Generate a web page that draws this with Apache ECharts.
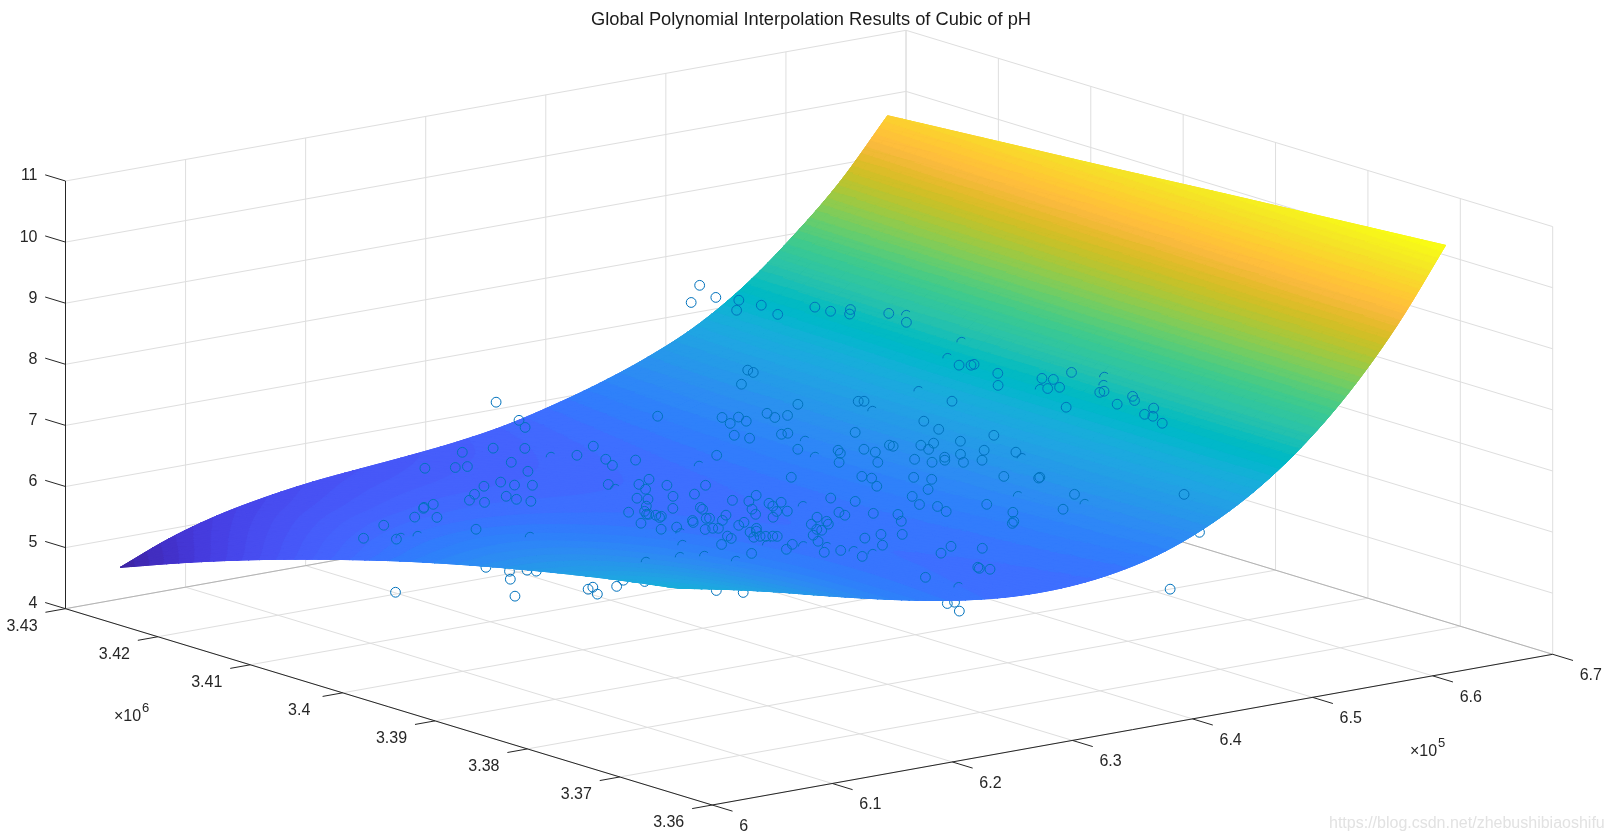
<!DOCTYPE html>
<html><head><meta charset="utf-8">
<script src="https://cdn.jsdelivr.net/npm/echarts@6/dist/echarts.min.js"></script>
<style>html,body{margin:0;background:#fff}#c{width:1612px;height:840px}</style></head>
<body><div id="c"></div><script>
const chartTitle = 'Global Polynomial Interpolation Results of Cubic of pH';
const xTicks = [6, 6.1, 6.2, 6.3, 6.4, 6.5, 6.6, 6.7];
const yTicks = [3.36, 3.37, 3.38, 3.39, 3.4, 3.41, 3.42, 3.43];
const zTicks = [4, 5, 6, 7, 8, 9, 10, 11];
// fitted surface: z at gridX (columns) / gridY (rows)
const gridX = [6.021,6.061,6.101,6.141,6.181,6.221,6.261,6.300,6.340,6.380,6.420,6.460,6.500,6.540,6.580,6.620,6.660];
const gridY = [3.4268,3.4193,3.4117,3.4042,3.3966,3.3891,3.3815,3.3740,3.3664];
const gridZ = [
[4.75,5.07,5.305,5.465,5.58,5.655,5.725,5.81,5.935,6.125,6.355,6.64,7.005,7.515,8.175,8.94,9.89],
[5.18,5.43,5.61,5.71,5.78,5.82,5.86,5.91,6.01,6.18,6.40,6.68,7.05,7.56,8.22,9.00,9.97],
[5.57,5.76,5.88,5.93,5.96,5.96,5.96,5.99,6.07,6.22,6.43,6.70,7.07,7.59,8.27,9.06,10.05],
[5.92,6.05,6.11,6.12,6.10,6.07,6.05,6.05,6.11,6.25,6.44,6.72,7.10,7.62,8.30,9.12,10.13],
[6.24,6.30,6.32,6.28,6.22,6.16,6.11,6.09,6.14,6.25,6.44,6.72,7.11,7.64,8.34,9.18,10.215],
[6.52,6.53,6.49,6.41,6.32,6.22,6.15,6.11,6.14,6.25,6.43,6.71,7.11,7.66,8.37,9.23,10.30],
[6.77,6.72,6.63,6.51,6.38,6.26,6.17,6.11,6.13,6.22,6.40,6.70,7.10,7.67,8.39,9.29,10.38],
[6.99,6.89,6.75,6.59,6.43,6.28,6.17,6.10,6.10,6.19,6.37,6.67,7.09,7.67,8.41,9.34,10.46],
[7.18,7.02,6.84,6.64,6.45,6.28,6.145,6.065,6.06,6.14,6.32,6.63,7.07,7.665,8.43,9.385,10.54]];
// observations in front of the surface: [x(1e5), y(1e6), pH]
const obsAbove = [
[6.354,3.4294,6.16],[6.340,3.4251,6.11],[6.332,3.4234,6.10],[6.387,3.4162,6.42],[6.290,3.4214,6.00],[6.272,3.4224,5.95],[6.301,3.4194,6.05],[6.309,3.4148,6.12],[6.328,3.4155,6.17],[6.313,3.4122,6.16],
[6.307,3.4107,6.15],[6.324,3.4104,6.19],[6.272,3.4171,6.03],[6.227,3.4206,5.93],[6.240,3.4190,5.97],[6.247,3.4186,5.98],[6.262,3.4140,6.06],[6.299,3.4057,6.18],[6.286,3.4051,6.17],[6.272,3.4066,6.15],
[6.227,3.4124,6.08],[6.227,3.4109,6.10],[6.235,3.4100,6.11],[6.210,3.4120,6.09],[6.297,3.4035,6.19],[6.280,3.4036,6.18],[6.279,3.4005,6.21],[6.186,3.4099,6.14],[6.171,3.4085,6.16],[6.172,3.4070,6.19],
[6.197,3.4079,6.16],[6.194,3.4064,6.19],[6.196,3.4051,6.21],[6.259,3.4018,6.19],[6.262,3.4010,6.20],[6.246,3.3991,6.23],[6.147,3.4093,6.14],[6.137,3.4090,6.14],[6.135,3.4088,6.14],[6.255,3.3974,6.24],
[6.222,3.3979,6.27],[6.233,3.3976,6.26],[6.227,3.3966,6.28],[6.228,3.3965,6.28],[6.230,3.3960,6.28],[6.227,3.3952,6.29],[6.230,3.3954,6.29],[6.110,3.4065,6.19],[6.117,3.4050,6.23],[6.200,3.3937,6.36],
[6.085,3.4066,6.14],[6.098,3.3983,6.41],[6.196,3.3910,6.40],[6.212,3.3914,6.36],[6.052,3.4045,6.14],[6.054,3.4012,6.27],[6.522,3.4292,7.49],[6.508,3.4283,7.30],[6.517,3.4268,7.42],[6.520,3.4247,7.46],
[6.512,3.4239,7.36],[6.521,3.4224,7.48],[6.517,3.4201,7.45],[6.531,3.4179,7.62],[6.531,3.4162,7.63],[6.536,3.4147,7.71],[6.533,3.4144,7.66],[6.541,3.4112,7.79],[6.538,3.4089,7.76],[6.518,3.4006,7.51],
[6.521,3.3997,7.54],[6.522,3.3995,7.56],[6.462,3.4162,6.91],[6.462,3.4156,6.90],[6.446,3.4148,6.80],[6.464,3.4045,6.93],[6.465,3.4040,6.95],[6.489,3.3976,7.16],[6.443,3.4083,6.78],[6.406,3.4117,6.54],
[6.412,3.4107,6.57],[6.425,3.4093,6.65],[6.429,3.4076,6.68],[6.423,3.4082,6.64],[6.402,3.4103,6.52],[6.410,3.4096,6.56],[6.464,3.3974,6.93],[6.461,3.3954,6.90],[6.390,3.4083,6.46],[6.392,3.4069,6.47],
[6.407,3.4054,6.55],[6.410,3.4051,6.57],[6.433,3.4008,6.70],[6.456,3.3924,6.86],[6.396,3.4022,6.49],[6.360,3.4063,6.33],[6.408,3.3994,6.56],[6.406,3.3989,6.54],[6.395,3.3976,6.49],[6.418,3.3979,6.61],
[6.419,3.3968,6.61],[6.408,3.3951,6.56],[6.430,3.3967,6.69],[6.430,3.3963,6.69],[6.440,3.3946,6.75],[6.446,3.3940,6.79],[6.438,3.3935,6.74],[6.455,3.3897,6.84],[6.424,3.3932,6.64],[6.427,3.3917,6.65],
[6.436,3.3915,6.71],[6.433,3.3911,6.69],[6.443,3.3907,6.77],[6.437,3.3896,6.71],[6.444,3.3885,6.77],[6.359,3.3981,6.35],[6.387,3.3941,6.45],[6.389,3.3933,6.45],[6.381,3.3917,6.42],[6.404,3.3907,6.53],
[6.409,3.3894,6.54],[6.396,3.3881,6.48],[6.313,3.4014,6.23],[6.293,3.4000,6.22],[6.319,3.3967,6.26],[6.300,3.3968,6.24],[6.306,3.3958,6.25],[6.348,3.3924,6.31],[6.353,3.3904,6.33],[6.382,3.3880,6.42],
[6.375,3.3863,6.39],[6.312,3.3944,6.26],[6.319,3.3940,6.27],[6.309,3.3936,6.26],[6.271,3.3965,6.24],[6.269,3.3960,6.24],[6.294,3.3939,6.25],[6.308,3.3919,6.26],[6.303,3.3924,6.25],[6.380,3.3850,6.40],
[6.378,3.3838,6.38],[6.401,3.3824,6.48],[6.331,3.3893,6.28],[6.329,3.3884,6.28],[6.345,3.3874,6.30],[6.354,3.3859,6.32],[6.270,3.3936,6.25],[6.287,3.3926,6.25],[6.290,3.3911,6.26],[6.312,3.3892,6.27],
[6.252,3.3934,6.27],[6.254,3.3933,6.27],[6.239,3.3932,6.29],[6.235,3.3926,6.30],[6.257,3.3923,6.27],[6.346,3.3845,6.30],[6.265,3.3910,6.27],[6.256,3.3904,6.28],[6.298,3.3880,6.26],[6.310,3.3879,6.27],
[6.306,3.3872,6.27],[6.225,3.3900,6.34],[6.232,3.3901,6.33],[6.236,3.3900,6.32],[6.260,3.3890,6.28],[6.291,3.3865,6.27],[6.292,3.3861,6.27],[6.247,3.3880,6.31],[6.253,3.3881,6.30],[6.278,3.3852,6.28],
[6.316,3.3828,6.27],[6.326,3.3818,6.28],[6.222,3.3872,6.37],[6.219,3.3864,6.38],[6.237,3.3863,6.34],[6.243,3.3864,6.33],[6.247,3.3863,6.32],[6.252,3.3862,6.31],[6.255,3.3861,6.30],[6.301,3.3826,6.27],
[6.194,3.3842,6.47],[6.269,3.3835,6.29],[6.246,3.3833,6.33],[6.298,3.3803,6.27],[6.332,3.3773,6.27],[6.345,3.3756,6.27],[6.228,3.3816,6.39],[6.264,3.3804,6.30],[6.189,3.3803,6.52],[6.248,3.3801,6.34],
[6.265,3.3782,6.30],[6.316,3.3763,6.26],[6.263,3.3711,6.29],[6.312,3.3718,6.25],[6.311,3.3715,6.25],[6.316,3.3710,6.24],[6.521,3.3968,7.54],[6.512,3.3956,7.43],[6.527,3.3928,7.62],[6.528,3.3917,7.65],
[6.537,3.3909,7.77],[6.521,3.3914,7.54],[6.524,3.3905,7.59],[6.511,3.3881,7.42],[6.529,3.3868,7.66],[6.531,3.3866,7.68],[6.525,3.3844,7.59],[6.534,3.3839,7.71],[6.531,3.3833,7.68],[6.530,3.3811,7.66],
[6.524,3.3813,7.57],[6.524,3.3804,7.58],[6.521,3.3790,7.54],[6.470,3.3906,6.99],[6.463,3.3873,6.89],[6.436,3.3851,6.69],[6.446,3.3825,6.76],[6.445,3.3825,6.75],[6.441,3.3781,6.70],[6.473,3.3704,6.94],
[6.423,3.3770,6.57],[6.402,3.3797,6.47],[6.392,3.3783,6.42],[6.390,3.3782,6.40]];
// observations behind / below the surface
const obsBelow = [
[6.047,3.3906,6.32],[6.042,3.3874,6.42],[6.015,3.3838,6.55],[6.052,3.3868,6.43],[6.052,3.3858,6.46],[5.944,3.3870,6.44],[5.965,3.3768,6.77],[6.009,3.3746,6.83],[6.016,3.3750,6.82],[5.999,3.3723,6.89],
[6.032,3.3745,6.80],[6.063,3.3778,6.64],[6.073,3.3768,6.63],[6.095,3.3719,6.63],[6.112,3.3712,6.57],[6.262,3.3686,5.98],[6.268,3.3686,5.98],[6.252,3.3660,6.01],[6.396,3.3619,6.05],[6.462,3.3673,6.50]];
// observations cut partly by the surface
const obsClipped = [
[6.085,3.4029,6.13],[6.077,3.4037,6.09],[6.120,3.3953,6.34],[6.309,3.4176,5.96],[6.281,3.4070,6.02],[6.105,3.3808,6.65],[6.548,3.4102,7.78],[6.541,3.4033,7.68],[6.527,3.4030,7.48],[6.496,3.4021,7.09],
[6.466,3.4032,6.82],[6.416,3.4040,6.47],[6.402,3.4011,6.39],[6.350,3.4069,6.16],[6.335,3.3937,6.16],[6.220,3.3920,6.20],[6.246,3.3860,6.19],[6.266,3.3847,6.16],[6.278,3.3837,6.15],[6.285,3.3817,6.15],
[6.290,3.3803,6.15],[6.169,3.3828,6.43],[6.148,3.3827,6.49],[6.177,3.3804,6.43],[6.187,3.3875,6.33],[6.280,3.3697,6.13],[6.524,3.3926,7.46],[6.546,3.3885,7.77],[6.540,3.3878,7.69],[6.465,3.3869,6.80],
[6.428,3.3825,6.51],[6.442,3.3771,6.58]];
const parula = ['0.2422 0.1504 0.6603','0.2504 0.1650 0.7076','0.2578 0.1818 0.7511','0.2647 0.1978 0.7952','0.2706 0.2147 0.8364','0.2751 0.2342 0.8710','0.2783 0.2559 0.8991','0.2803 0.2782 0.9221','0.2813 0.3006 0.9414','0.2810 0.3228 0.9579','0.2795 0.3447 0.9717','0.2760 0.3667 0.9829','0.2699 0.3892 0.9906','0.2602 0.4123 0.9952','0.2440 0.4358 0.9988','0.2206 0.4603 0.9973','0.1963 0.4847 0.9892','0.1834 0.5074 0.9798','0.1786 0.5289 0.9682','0.1764 0.5499 0.9520','0.1687 0.5703 0.9359','0.1540 0.5902 0.9218','0.1460 0.6091 0.9079','0.1380 0.6276 0.8973','0.1248 0.6459 0.8883','0.1113 0.6635 0.8763','0.0952 0.6798 0.8598','0.0689 0.6948 0.8394','0.0297 0.7082 0.8163','0.0036 0.7203 0.7917','0.0067 0.7312 0.7660','0.0433 0.7411 0.7394','0.0964 0.7500 0.7120','0.1408 0.7584 0.6842','0.1717 0.7670 0.6554','0.1938 0.7758 0.6251','0.2161 0.7843 0.5923','0.2470 0.7918 0.5567','0.2906 0.7973 0.5188','0.3406 0.8008 0.4789','0.3909 0.8029 0.4354','0.4456 0.8024 0.3909','0.5044 0.7993 0.3480','0.5616 0.7942 0.3045','0.6174 0.7876 0.2612','0.6720 0.7793 0.2227','0.7242 0.7698 0.1910','0.7738 0.7598 0.1646','0.8203 0.7498 0.1535','0.8634 0.7406 0.1596','0.9035 0.7330 0.1774','0.9393 0.7288 0.2100','0.9728 0.7298 0.2394','0.9956 0.7434 0.2371','0.9970 0.7659 0.2199','0.9952 0.7893 0.2028','0.9892 0.8136 0.1885','0.9786 0.8386 0.1766','0.9676 0.8639 0.1643','0.9610 0.8890 0.1537','0.9597 0.9135 0.1423','0.9628 0.9373 0.1265','0.9691 0.9606 0.1064','0.9769 0.9839 0.0805']
  .map(s => 'rgb(' + s.split(' ').map(v => Math.round(v * 255)).join(',') + ')');

// ---- orthographic view of the axes box (layout of the plot, not data)
const view = { ox: 65.5, oy: 608.7, ux: 840.5, uy: -150.7, vx: 646.7, vy: 196.3, zy: -61.1 };
function toPlane(X, Y, Z) {
  const u = (X - 6) / 0.7, v = (3.43 - Y) / 0.07, w = Z - 4;
  return [view.ox + view.ux * u + view.vx * v, view.oy + view.uy * u + view.vy * v + view.zy * w];
}
const FONT = '"Liberation Sans", Arial, sans-serif', INK = '#262626', GRID = '#dedede', EDGE = '#b4b4b4', MARK = '#0072BD';

// ---- axis box segments
const segs = [];
const seg = (a, b, color, width) => segs.push([a[0], a[1], a[2], b[0], b[1], b[2], color, width]);
const X0 = 6, X1 = 6.7, Y0 = 3.36, Y1 = 3.43, Z0 = 4, Z1 = 11;
xTicks.forEach(x => { seg([x, Y1, Z0], [x, Y0, Z0], GRID, 1); seg([x, Y1, Z0], [x, Y1, Z1], GRID, 1); });
yTicks.forEach(y => { seg([X0, y, Z0], [X1, y, Z0], GRID, 1); seg([X1, y, Z0], [X1, y, Z1], GRID, 1); });
zTicks.forEach(z => { if (z > Z0) { seg([X0, Y1, z], [X1, Y1, z], GRID, 1); seg([X1, Y1, z], [X1, Y0, z], GRID, 1); } });
seg([X0, Y1, Z0], [X1, Y1, Z0], EDGE, 1); seg([X1, Y1, Z0], [X1, Y0, Z0], EDGE, 1);
seg([X0, Y1, Z0], [X0, Y1, Z1], INK, 1); seg([X0, Y1, Z0], [X0, Y0, Z0], INK, 1); seg([X0, Y0, Z0], [X1, Y0, Z0], INK, 1);
const tickY = 0.0022, tickX = 0.0167;
zTicks.forEach(z => seg([X0, Y1, z], [X0, Y1 + tickY, z], INK, 1));
yTicks.forEach(y => seg([X0, y, Z0], [X0 - tickX, y, Z0], INK, 1));
xTicks.forEach(x => seg([x, Y0, Z0], [x, Y0 - tickY, Z0], INK, 1));

// ---- tick labels [x,y,z,text,dx,dy,align]
const labels = [];
xTicks.forEach(x => labels.push([x, Y0, Z0, String(x), 27, 21.5, 'left']));
yTicks.forEach(y => labels.push([X0, y, Z0, String(y), -43.5, 18, 'center']));
zTicks.forEach(z => labels.push([X0, Y1, z, String(z), -28, -5, 'right']));

// ---- shaded bands of the surface between table nodes
const NS = 96, NW = 48, m = gridZ.length, n = gridZ[0].length;
const cr = (a, b, c, d, t) => 0.5 * (2 * b + (c - a) * t + (2 * a - 5 * b + 4 * c - d) * t * t + (3 * b - a - 3 * c + d) * t * t * t);
function zAt(fi, fj) {
  const i = Math.min(n - 2, Math.floor(fi)), j = Math.min(m - 2, Math.floor(fj)), a = fi - i, b = fj - j;
  const get = (r, c) => {
    const cc = Math.max(0, Math.min(n - 1, c)), rr = Math.max(0, Math.min(m - 1, r));
    let v = gridZ[rr][cc];
    if (c < 0) v = 2 * gridZ[rr][0] - gridZ[rr][1];
    if (c > n - 1) v = 2 * gridZ[rr][n - 1] - gridZ[rr][n - 2];
    if (r < 0) v += gridZ[0][cc] - gridZ[1][cc];
    if (r > m - 1) v += gridZ[m - 1][cc] - gridZ[m - 2][cc];
    return v;
  };
  const row = r => cr(get(r, i - 1), get(r, i), get(r, i + 1), get(r, i + 2), a);
  return cr(row(j - 1), row(j), row(j + 1), row(j + 2), b);
}
const mesh = [];
for (let j = 0; j <= NW; j++) {
  const fj = j / NW * (m - 1), rowP = [];
  const yy = gridY[0] + (gridY[m - 1] - gridY[0]) * j / NW;
  for (let i = 0; i <= NS; i++) {
    const fi = i / NS * (n - 1), xx = gridX[0] + (gridX[n - 1] - gridX[0]) * i / NS;
    rowP.push([xx, yy, zAt(fi, fj)]);
  }
  mesh.push(rowP);
}
const allZ = gridZ.flat(), zMin = Math.min(...allZ), zMax = Math.max(...allZ), zStep = (zMax - zMin) / 64;
const bandOf = z => Math.max(0, Math.min(63, Math.floor((z - zMin) / zStep)));
const mix = (a, b, t) => [a[0] + (b[0] - a[0]) * t, a[1] + (b[1] - a[1]) * t, a[2] + (b[2] - a[2]) * t];
function clip(poly, level, keepAbove) {
  const out = [];
  for (let i = 0; i < poly.length; i++) {
    const a = poly[i], b = poly[(i + 1) % poly.length];
    const ia = keepAbove ? a[2] >= level : a[2] <= level, ib = keepAbove ? b[2] >= level : b[2] <= level;
    if (ia) out.push(a);
    if (ia !== ib) out.push(mix(a, b, (level - a[2]) / (b[2] - a[2])));
  }
  return out;
}
const bands = [];
function addTriangle(tri) {
  const zs = tri.map(p => p[2]);
  const k0 = bandOf(Math.min(...zs)), k1 = bandOf(Math.max(...zs));
  for (let k = k0; k <= k1; k++) {
    let poly = tri;
    if (k > 0) poly = clip(poly, zMin + k * zStep, true);
    if (poly.length && k < 63) poly = clip(poly, zMin + (k + 1) * zStep, false);
    if (poly.length >= 3) bands.push([poly, k]);
  }
}
for (let j = 0; j < NW; j++) for (let i = NS - 1; i >= 0; i--) {
  const a = mesh[j][i], b = mesh[j][i + 1], c = mesh[j + 1][i + 1], d = mesh[j + 1][i];
  bands.push([[a, b, c, d], bandOf((a[2] + b[2] + c[2] + d[2]) / 4)]);
  addTriangle([a, b, c]); addTriangle([a, c, d]);
}

const chart = echarts.init(document.getElementById('c'), null, { renderer: 'canvas', width: 1612, height: 840 });
const pt = (api, X, Y, Z) => api.coord(toPlane(X, Y, Z));

function markerSeries(data, z) {
  return {
    type: 'custom', coordinateSystem: 'cartesian2d', z, silent: true, clip: false, animation: false, data,
    renderItem: (p, api) => {
      const c = pt(api, api.value(0), api.value(1), api.value(2));
      return { type: 'circle', shape: { cx: c[0], cy: c[1], r: 4.9 }, style: { fill: 'none', stroke: MARK, lineWidth: 1 } };
    }
  };
}

chart.setOption({
  animation: false,
  backgroundColor: '#fff',
  title: { text: chartTitle, left: 806, top: 6, textAlign: 'center', textStyle: { fontFamily: FONT, fontSize: 18.3, fontWeight: 'normal', color: '#1a1a1a' } },
  grid: { left: 0, right: 0, top: 0, bottom: 0 },
  xAxis: { type: 'value', min: 0, max: 1612, show: false },
  yAxis: { type: 'value', min: 0, max: 840, inverse: true, show: false },
  graphic: [
    { type: 'text', x: 114, y: 709, z: 20, style: { text: '×10', font: '16px ' + FONT, fill: INK } },
    { type: 'text', x: 142, y: 702, z: 20, style: { text: '6', font: '13px ' + FONT, fill: INK } },
    { type: 'text', x: 1410, y: 744, z: 20, style: { text: '×10', font: '16px ' + FONT, fill: INK } },
    { type: 'text', x: 1438, y: 737, z: 20, style: { text: '5', font: '13px ' + FONT, fill: INK } },
    { type: 'text', x: 1329, y: 816, z: 20, style: { text: 'https://blog.csdn.net/zhebushibiaoshifu', font: '16px ' + FONT, fill: '#e2e2e2' } }
  ],
  series: [
    {
      type: 'custom', coordinateSystem: 'cartesian2d', z: 1, silent: true, clip: false, data: segs.map((s, i) => [i]),
      renderItem: (p, api) => {
        const s = segs[api.value(0)], a = pt(api, s[0], s[1], s[2]), b = pt(api, s[3], s[4], s[5]);
        return { type: 'line', shape: { x1: a[0], y1: a[1], x2: b[0], y2: b[1] }, style: { stroke: s[6], lineWidth: s[7] } };
      }
    },
    markerSeries(obsBelow, 2),
    {
      type: 'custom', coordinateSystem: 'cartesian2d', z: 3, silent: true, clip: false, progressive: 0, data: bands.map((b, i) => [i]),
      renderItem: (p, api) => {
        const b = bands[api.value(0)], col = parula[b[1]];
        return { type: 'polygon', shape: { points: b[0].map(v => pt(api, v[0], v[1], v[2])) }, style: { fill: col, stroke: col, lineWidth: 1 } };
      }
    },
    {
      type: 'custom', coordinateSystem: 'cartesian2d', z: 4, silent: true, clip: false, data: obsClipped,
      renderItem: (p, api) => {
        const c = pt(api, api.value(0), api.value(1), api.value(2));
        return { type: 'arc', shape: { cx: c[0], cy: c[1], r: 4.9, startAngle: Math.PI * 1.0, endAngle: Math.PI * 1.75, clockwise: true }, style: { fill: 'none', stroke: MARK, lineWidth: 1 } };
      }
    },
    markerSeries(obsAbove, 5),
    {
      type: 'custom', coordinateSystem: 'cartesian2d', z: 6, silent: true, clip: false, data: labels.map((l, i) => [i]),
      renderItem: (p, api) => {
        const l = labels[api.value(0)], c = pt(api, l[0], l[1], l[2]);
        return { type: 'text', x: c[0] + l[4], y: c[1] + l[5], style: { text: l[3], font: '16px ' + FONT, fill: INK, textAlign: l[6], textVerticalAlign: 'middle' } };
      }
    }
  ]
});
</script></body></html>
